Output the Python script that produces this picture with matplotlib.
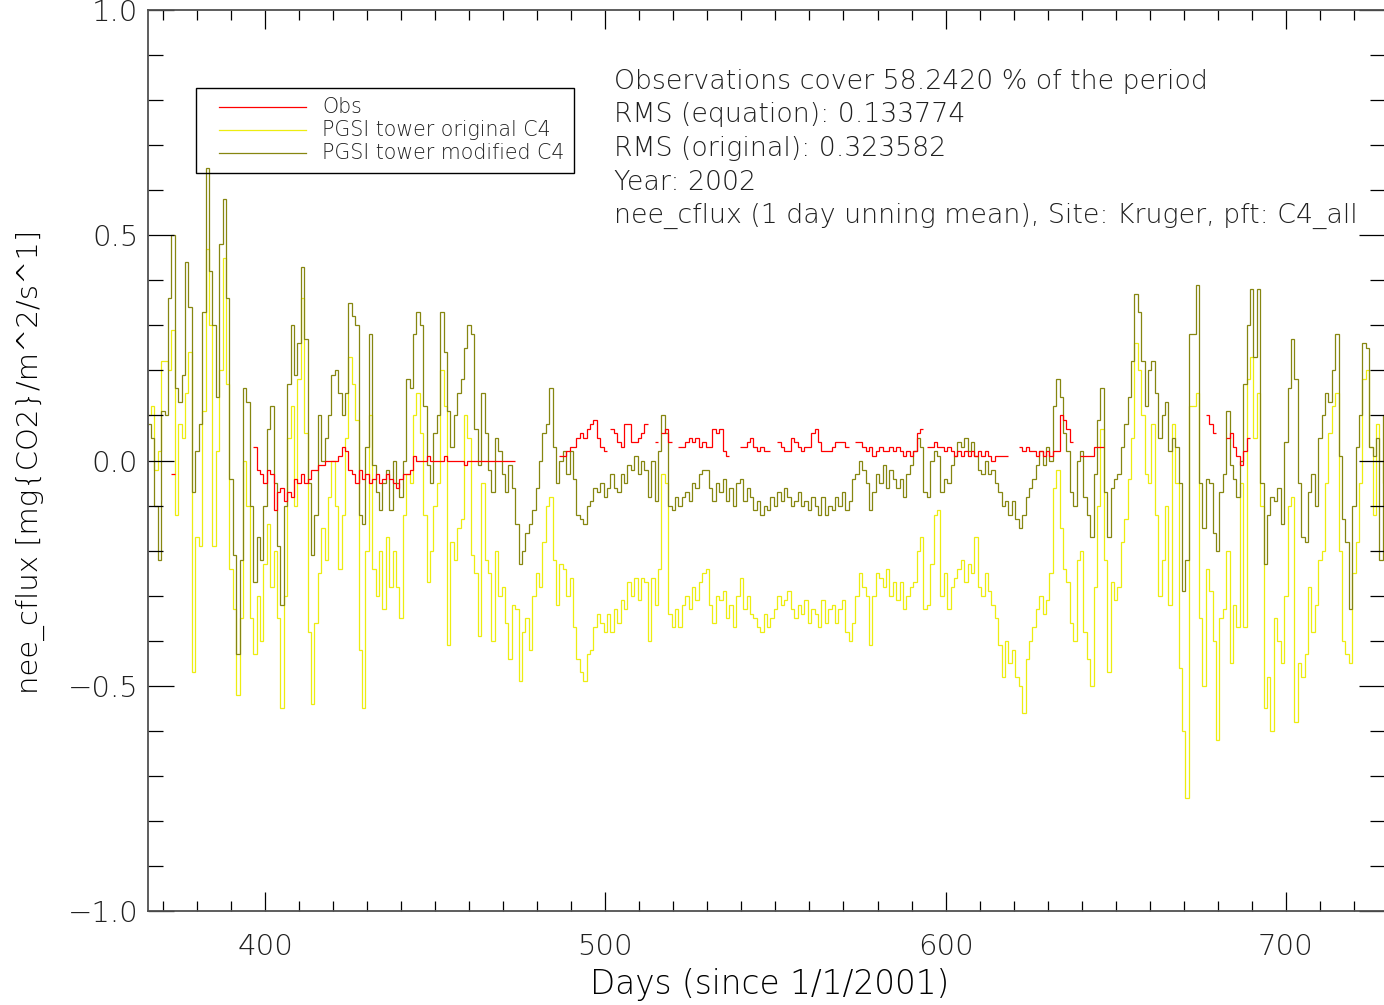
import numpy as np
import matplotlib
matplotlib.use("Agg")
import matplotlib.pyplot as plt
from matplotlib.lines import Line2D
from matplotlib.patches import Rectangle
from matplotlib.ticker import MultipleLocator, FuncFormatter

nan = np.nan

# daily values, day 366 .. 729 (days since 1/1/2001)
first_day = 366

modified_c4 = [
    0.08, 0.05, -0.10, -0.22, 0.11, 0.10, 0.36, 0.50, 0.16, 0.13,
    0.19, 0.44, 0.34, -0.07, 0.02, 0.08, 0.33, 0.65, 0.42, 0.30,
    0.14, 0.48, 0.58, 0.36, -0.04, -0.21, -0.43, -0.22, 0.16, 0.13,
    -0.10, -0.27, -0.17, -0.22, -0.10, 0.07, 0.12, -0.05, -0.19, -0.32,
    -0.10, 0.17, 0.30, 0.19, 0.26, 0.43, 0.27, -0.05, -0.21, -0.12,
    0.10, 0.00, 0.05, 0.10, 0.19, 0.20, 0.15, 0.10, 0.15, 0.35,
    0.32, 0.30, -0.12, -0.14, 0.03, 0.28, -0.01, -0.07, -0.11, -0.05,
    -0.02, -0.11, 0.00, -0.05, -0.08, 0.00, 0.18, 0.16, 0.28, 0.33,
    0.30, 0.12, -0.01, -0.05, 0.06, 0.10, 0.33, 0.24, 0.11, 0.03,
    0.10, 0.15, 0.18, 0.25, 0.30, 0.28, 0.07, -0.01, 0.15, 0.06,
    -0.02, -0.07, 0.05, 0.02, -0.03, -0.07, -0.01, -0.06, -0.14, -0.23,
    -0.20, -0.16, -0.14, -0.11, -0.06, 0.00, 0.06, 0.08, 0.16, 0.03,
    -0.05, 0.00, 0.02, -0.03, 0.02, -0.04, -0.12, -0.13, -0.14, -0.10,
    -0.09, -0.06, -0.07, -0.05, -0.08, -0.06, -0.03, -0.06, -0.07, -0.03,
    -0.05, -0.01, -0.02, 0.01, -0.03, 0.00, -0.02, -0.08, 0.00, -0.09,
    0.02, 0.10, 0.06, -0.10, -0.11, -0.08, -0.10, -0.08, -0.07, -0.09,
    -0.05, -0.06, -0.03, -0.02, -0.02, -0.06, -0.09, -0.05, -0.07, -0.04,
    -0.09, -0.06, -0.10, -0.05, -0.04, -0.09, -0.06, -0.08, -0.11, -0.09,
    -0.12, -0.10, -0.11, -0.08, -0.10, -0.07, -0.09, -0.06, -0.08, -0.10,
    -0.09, -0.07, -0.10, -0.09, -0.11, -0.08, -0.10, -0.12, -0.08, -0.12,
    -0.10, -0.11, -0.08, -0.10, -0.07, -0.11, -0.09, -0.04, -0.03, 0.00,
    -0.02, -0.05, -0.11, -0.07, -0.03, -0.05, -0.01, -0.06, -0.02, -0.04,
    -0.06, -0.04, -0.08, -0.03, -0.01, 0.02, 0.05, 0.03, -0.07, -0.08,
    0.00, 0.02, 0.01, -0.07, -0.04, -0.05, -0.01, 0.01, 0.04, 0.03,
    0.05, 0.02, 0.04, 0.01, -0.02, -0.03, 0.00, -0.03, -0.02, -0.05,
    -0.07, -0.10, -0.09, -0.12, -0.09, -0.13, -0.15, -0.12, -0.08, -0.06,
    -0.04, -0.01, 0.02, -0.01, 0.03, 0.00, 0.12, 0.18, 0.14, 0.06,
    0.02, -0.07, -0.10, 0.00, 0.02, -0.08, -0.12, -0.17, -0.03, 0.09,
    0.16, -0.07, -0.17, -0.06, -0.04, -0.03, 0.03, 0.08, 0.14, 0.22,
    0.37, 0.33, 0.22, 0.12, 0.20, 0.22, 0.15, 0.05, 0.10, 0.13,
    0.02, 0.05, 0.03, -0.05, -0.29, -0.22, 0.28, 0.28, 0.39, -0.05,
    -0.15, -0.04, -0.05, -0.16, -0.20, -0.07, -0.03, 0.11, -0.01, -0.04,
    -0.08, 0.00, 0.17, 0.30, 0.38, 0.23, 0.38, -0.05, -0.23, -0.12,
    -0.08, -0.09, -0.06, -0.14, 0.04, 0.16, 0.27, 0.18, -0.05, -0.17,
    -0.18, -0.07, -0.03, -0.10, 0.05, 0.10, 0.15, 0.13, 0.20, 0.28,
    0.01, -0.13, -0.18, -0.33, -0.10, 0.03, 0.10, 0.26, 0.25, 0.03,
    0.01, 0.05, -0.22, 0.10,
]

original_c4 = [
    0.10, 0.12, -0.02, 0.02, 0.22, 0.22, 0.20, 0.29, -0.12, 0.08,
    0.05, 0.15, 0.24, -0.47, -0.17, -0.19, 0.11, 0.47, 0.30, -0.19,
    0.02, 0.20, 0.45, 0.17, -0.24, -0.33, -0.52, -0.35, 0.00, -0.10,
    -0.35, -0.43, -0.30, -0.40, -0.23, -0.14, -0.28, -0.20, -0.35, -0.55,
    -0.30, 0.05, 0.12, -0.10, 0.18, 0.36, 0.06, -0.38, -0.54, -0.36,
    -0.25, -0.15, -0.22, -0.08, 0.00, -0.10, -0.24, -0.12, 0.05, 0.23,
    0.17, 0.09, -0.42, -0.55, -0.20, 0.10, -0.24, -0.30, -0.20, -0.33,
    -0.17, -0.28, -0.20, -0.28, -0.35, -0.12, -0.03, -0.05, 0.10, 0.15,
    0.06, -0.12, -0.27, -0.20, -0.10, -0.05, 0.20, 0.12, -0.41, -0.18,
    -0.22, -0.15, -0.13, 0.10, 0.05, -0.21, -0.25, -0.39, -0.05, -0.22,
    -0.25, -0.40, -0.20, -0.30, -0.28, -0.36, -0.44, -0.32, -0.33, -0.49,
    -0.38, -0.35, -0.42, -0.30, -0.25, -0.28, -0.18, -0.10, -0.08, -0.22,
    -0.32, -0.23, -0.24, -0.30, -0.26, -0.37, -0.44, -0.47, -0.49, -0.43,
    -0.42, -0.37, -0.34, -0.36, -0.38, -0.34, -0.38, -0.33, -0.36, -0.31,
    -0.33, -0.27, -0.30, -0.26, -0.31, -0.26, -0.27, -0.40, -0.26, -0.32,
    -0.24, -0.03, -0.05, -0.34, -0.37, -0.33, -0.37, -0.32, -0.30, -0.33,
    -0.28, -0.31, -0.27, -0.25, -0.24, -0.32, -0.36, -0.30, -0.31, -0.29,
    -0.35, -0.32, -0.37, -0.30, -0.26, -0.33, -0.30, -0.34, -0.35, -0.37,
    -0.38, -0.34, -0.37, -0.35, -0.33, -0.30, -0.32, -0.31, -0.29, -0.33,
    -0.35, -0.32, -0.34, -0.31, -0.36, -0.33, -0.34, -0.37, -0.31, -0.36,
    -0.33, -0.32, -0.36, -0.33, -0.31, -0.38, -0.40, -0.36, -0.30, -0.25,
    -0.28, -0.30, -0.41, -0.30, -0.25, -0.26, -0.28, -0.24, -0.30, -0.27,
    -0.31, -0.27, -0.33, -0.30, -0.28, -0.27, -0.20, -0.17, -0.33, -0.32,
    -0.23, -0.12, -0.11, -0.30, -0.25, -0.33, -0.28, -0.26, -0.24, -0.22,
    -0.27, -0.23, -0.25, -0.17, -0.28, -0.30, -0.25, -0.29, -0.32, -0.35,
    -0.41, -0.48, -0.40, -0.45, -0.42, -0.48, -0.50, -0.56, -0.44, -0.40,
    -0.37, -0.33, -0.30, -0.34, -0.31, -0.25, -0.06, -0.02, -0.15, -0.24,
    -0.27, -0.36, -0.40, -0.22, -0.20, -0.38, -0.44, -0.50, -0.28, -0.10,
    0.07, -0.22, -0.47, -0.27, -0.31, -0.28, -0.18, -0.13, -0.04, 0.05,
    0.26, 0.20, 0.10, -0.03, -0.05, 0.08, -0.12, -0.30, -0.22, -0.10,
    -0.32, 0.08, -0.05, -0.46, -0.60, -0.75, 0.12, 0.12, 0.15, -0.35,
    -0.50, -0.24, -0.29, -0.40, -0.62, -0.35, -0.33, -0.20, -0.45, -0.32,
    -0.37, -0.05, -0.37, 0.18, 0.23, 0.05, 0.15, -0.10, -0.55, -0.48,
    -0.60, -0.35, -0.40, -0.45, -0.30, -0.10, -0.08, -0.58, -0.45, -0.48,
    -0.43, -0.28, -0.38, -0.32, -0.22, -0.20, -0.05, 0.06, 0.12, 0.15,
    -0.20, -0.40, -0.43, -0.45, -0.25, -0.18, -0.05, 0.18, 0.20, 0.03,
    -0.12, 0.08, 0.00, -0.05,
]

# tower observations, nan where the record has gaps
obs = (
    [nan] * 7 + [-0.03] + [nan] * 23 + [
        0.03, -0.02, -0.03, -0.05, -0.02, -0.03, -0.11, -0.07, -0.06, -0.09,
        -0.07, -0.08, -0.04, -0.05, -0.03, -0.05, -0.04, -0.02, -0.02, -0.01,
        -0.01, 0.00, 0.00, 0.00, 0.00, 0.01, 0.03, 0.02, -0.02, -0.03,
        -0.05, -0.02, -0.04, -0.03, -0.05, -0.04, -0.03, -0.05, -0.04, -0.03,
        -0.04, -0.05, -0.06, -0.04, -0.03, -0.03, -0.02, 0.01, 0.00, 0.00,
        0.00, 0.01, 0.00, 0.00, 0.00, 0.00, 0.01, 0.00, 0.00, 0.00,
        0.00, 0.00, -0.01, 0.00, 0.00, 0.00, 0.00, 0.00, 0.00, 0.00,
        0.00, 0.00, 0.00, 0.00, 0.00, 0.00, 0.00,
    ] + [nan] * 13 + [
        0.01, 0.01, 0.02, 0.03, 0.03, 0.05, 0.06, 0.05, 0.07, 0.08,
        0.09, 0.05, 0.03, 0.02, nan, 0.07, 0.06, 0.04, 0.03, 0.08,
        0.08, 0.04, 0.04, 0.05, 0.06, 0.08, nan, nan, 0.04, nan,
        0.06, 0.07, 0.04, nan, nan, 0.03, 0.03, 0.04, 0.05, 0.04,
        0.05, 0.03, 0.04, 0.03, 0.03, 0.07, 0.06, 0.07, 0.02, 0.01,
        nan, nan, nan, 0.03, 0.03, 0.04, 0.05, 0.03, 0.02, 0.03,
        0.02, 0.02, nan, nan, 0.04, 0.03, 0.02, 0.02, 0.05, 0.04,
        0.03, 0.02, 0.03, 0.03, 0.06, 0.07, 0.04, 0.02, 0.02, 0.02,
        0.03, 0.04, 0.04, 0.04, 0.03, nan, nan, 0.04, 0.04, 0.03,
        0.02, 0.03, 0.01, 0.02, 0.03, 0.02, 0.02, 0.03, 0.02, 0.03,
        0.02, 0.01, 0.02, 0.01, 0.02, 0.06, 0.07, nan, 0.03, 0.03,
        0.04, 0.03, 0.03, 0.02, 0.03, 0.02, 0.01, 0.02, 0.01, 0.02,
        0.01, 0.02, 0.01, 0.02, 0.01, 0.02, 0.01, 0.00, 0.01, 0.01,
        0.01, 0.01, nan, nan, nan, 0.03, 0.02, 0.03, 0.02, 0.02,
        0.01, 0.02, 0.01, 0.02, 0.01, 0.02, 0.02, 0.10, 0.09, 0.07,
        0.04, nan, nan, 0.01, 0.01, 0.01, 0.01, 0.03, 0.03, 0.03,
    ] + [nan] * 30 + [
        0.10, 0.08, 0.06, nan, nan, nan, 0.05, 0.06, 0.03, 0.01, -0.01, 0.02, 0.05,
    ] + [nan] * 40
)

legend_labels = ["Obs", "PGSI tower original C4", "PGSI tower modified C4"]
info_lines = [
    "Observations cover 58.2420 % of the period",
    "RMS (equation): 0.133774",
    "RMS (original): 0.323582",
    "Year: 2002",
    "nee_cflux (1 day unning mean), Site: Kruger, pft: C4_all",
]

RED = "#ff0000"
YELLOW = "#eded10"
OLIVE = "#868610"

W, H = 1384, 1005
plt.rcParams["font.family"] = ["DejaVu Sans"]
plt.rcParams["font.weight"] = "light"
plt.rcParams["axes.labelweight"] = "light"
plt.rcParams["text.color"] = "#202020"

fig = plt.figure(figsize=(W / 100, H / 100), dpi=100)


def fx(px):
    return px / W


def fy(py):
    return 1 - py / H


ax = fig.add_axes([fx(148), fy(911), fx(1385.5) - fx(148), fy(10) - fy(911)])

edges = np.arange(first_day, first_day + len(modified_c4) + 1) - 0.5
ax.stairs(original_c4, edges, baseline=None, color=YELLOW, linewidth=0.9)
ax.stairs(modified_c4, edges, baseline=None, color=OLIVE, linewidth=0.9)
ax.stairs(obs, edges, baseline=None, color=RED, linewidth=0.9)

ax.set_xlim(365.6, 729.3)
ax.set_ylim(-1.0, 1.0)

ax.xaxis.set_major_locator(MultipleLocator(100))
ax.xaxis.set_minor_locator(MultipleLocator(10))
ax.yaxis.set_major_locator(MultipleLocator(0.5))
ax.yaxis.set_minor_locator(MultipleLocator(0.1))
ax.yaxis.set_major_formatter(
    FuncFormatter(lambda v, pos: f"{v:.1f}".replace("-", "\u2212")))

ax.tick_params(axis="both", which="both", direction="in", top=True, right=True,
               colors="black", labelcolor="#202020", width=0.9, labelsize=21)
ax.tick_params(axis="x", which="major", length=14, pad=16)
ax.tick_params(axis="x", which="minor", length=7)
ax.tick_params(axis="y", which="major", length=19, pad=7)
ax.tick_params(axis="y", which="minor", length=10.5)
for s in ax.spines.values():
    s.set_color("#505050")
    s.set_linewidth(1.3)

ax.set_xlabel("Days (since 1/1/2001)", fontsize=23.5)
ax.set_ylabel("nee_cflux [mg{CO2}/m^2/s^1]", fontsize=21)
ax.xaxis.set_label_coords(0.502, -0.082)
ax.xaxis.label.set_va("center")
ax.yaxis.set_label_coords(-0.0954, 0.498)
ax.yaxis.label.set_va("center")

# legend box
fig.add_artist(Rectangle((fx(196), fy(173)), fx(574) - fx(196), fy(88) - fy(173),
                         transform=fig.transFigure, fill=False,
                         edgecolor="black", linewidth=1.0))
for label, color, y in zip(legend_labels, [RED, YELLOW, OLIVE], [107, 130, 153]):
    fig.add_artist(Line2D([fx(219), fx(306)], [fy(y), fy(y)],
                          transform=fig.transFigure, color=color, linewidth=0.9))
    fig.text(fx(322), fy(y), label, fontsize=14.8, va="center", ha="left")

for i, line in enumerate(info_lines):
    fig.text(fx(614), fy(81 + 33.8 * i), line, fontsize=19.3, va="center", ha="left")

fig.savefig("out.png", dpi=100)
